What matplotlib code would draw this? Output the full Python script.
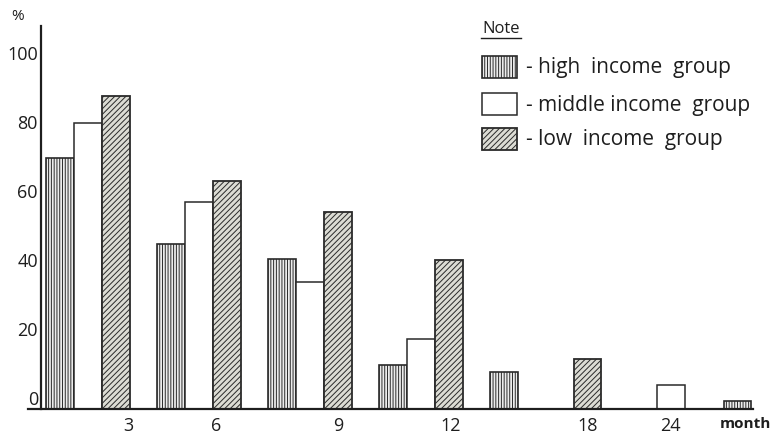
import matplotlib

matplotlib.use("Agg")
import matplotlib.pyplot as plt  # noqa: E402
import numpy as np  # noqa: E402
from matplotlib.lines import Line2D  # noqa: E402
from matplotlib.patches import Rectangle  # noqa: E402
from matplotlib.transforms import ScaledTranslation  # noqa: E402

# data (percent), None = no bar for that period
periods = ["3", "6", "9", "12", "15", "18", "24", ">24"]
tick_labels = ["3", "6", "9", "12", "", "18", "24", "month"]
high = [72.8, 47.8, 43.5, 12.8, 10.7, None, None, 2.3]
middle = [82.9, 60.0, 36.8, 20.3, None, None, 7.1, None]
low = [90.7, 66.1, 57.1, 43.2, None, 14.5, None, None]
y_ticks = [0, 20, 40, 60, 80, 100]
legend_labels = ["- high  income  group", "- middle income  group", "- low  income  group"]

# hand-drawn layout: slot centres and where each period label sits
slots = [0, 4, 8, 12, 15, 18, 21, 23.4]
tick_shift = [1.45, 0.6, 1.0, 1.05, 0, 0, 0, 0.3]

W, H = 775, 439
plt.rcParams["font.family"] = ["Open Sans", "DejaVu Sans"]
plt.rcParams["hatch.linewidth"] = 0.7

INK = "#1e1e1e"
STYLES = {
    "high": dict(facecolor="#ececec", edgecolor="#2a2a2a", hatch="||||||", linewidth=1.2),
    "middle": dict(facecolor="white", edgecolor="#2a2a2a", hatch=None, linewidth=1.1),
    "low": dict(facecolor="#dcdcd4", edgecolor="#2a2a2a", hatch="//////", linewidth=1.3),
}

fig = plt.figure(figsize=(W / 100, H / 100), dpi=100)
ax = fig.add_axes([28 / W, (H - 410) / H, 725 / W, 383 / H])

series = {"high": high, "middle": middle, "low": low}
for i, slot in enumerate(slots):
    present = [k for k in ("high", "middle", "low") if series[k][i] is not None]
    offsets = np.arange(len(present)) - (len(present) - 1) / 2
    for key, off in zip(present, offsets):
        ax.bar(slot + off, series[key][i], width=1.0, **STYLES[key], zorder=2)

ax.set_xlim(-2.16, 23.96)
ax.set_ylim(0, 111)

for side in ("top", "right"):
    ax.spines[side].set_visible(False)
ax.spines["left"].set_position(("data", -1.7))
ax.spines["left"].set_linewidth(1.6)
ax.spines["bottom"].set_linewidth(1.6)
ax.spines["left"].set_color(INK)
ax.spines["bottom"].set_color(INK)

ax.set_xticks([s + d for s, d in zip(slots, tick_shift)])
ax.set_xticklabels(tick_labels)
ax.set_yticks(y_ticks)
ax.set_yticklabels([str(v) for v in y_ticks])
ax.tick_params(axis="both", length=0, labelsize=13, colors=INK)
ax.tick_params(axis="x", pad=5)
ax.tick_params(axis="y", pad=2)

# the scan has the y numbers drawn a bit above their gridline
lift = ScaledTranslation(0, 0.12, fig.dpi_scale_trans)
for lab in ax.get_yticklabels():
    lab.set_transform(lab.get_transform() + lift)
xl = ax.get_xticklabels()
xl[-1].set_fontweight("bold")
xl[-1].set_fontsize(11)

fig.text(18 / W, 1 - 17 / H, "%", fontsize=11, color=INK, ha="center", va="center")


def fx(px):
    return px / W


def fy(py):
    return 1 - py / H


# legend block, drawn by hand like the original note
fig.text(fx(501), fy(29), "Note", fontsize=12, color=INK, ha="center", va="center")
fig.add_artist(Line2D([fx(481), fx(521)], [fy(39), fy(39)], color=INK, lw=1.0))
rows_y = [68, 105, 140]
for key, label, ry in zip(("high", "middle", "low"), legend_labels, rows_y):
    fig.add_artist(Rectangle((fx(482), fy(ry + 11)), 35 / W, 22 / H,
                             transform=fig.transFigure, **STYLES[key]))
    fig.text(fx(526), fy(ry), label, fontsize=15, color=INK, ha="left", va="center")

fig.savefig("out.png", dpi=100)
